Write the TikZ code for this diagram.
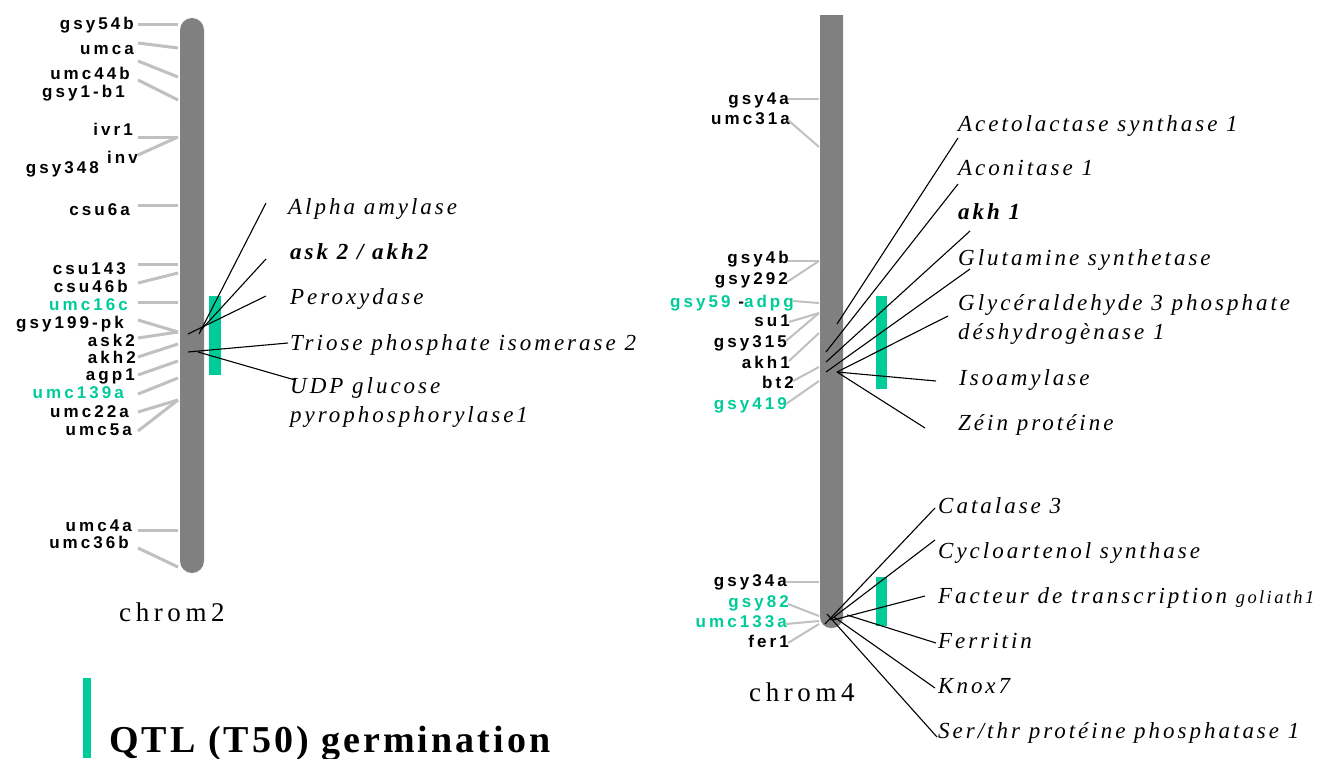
\documentclass[tikz,border=0pt]{standalone}
\usepackage{fontspec}
\setmainfont{Liberation Serif}
\newfontfamily\mkfont[LetterSpace=18]{Liberation Sans}
\newfontfamily\genefont[LetterSpace=13]{Liberation Serif}
\newfontfamily\chromfont[LetterSpace=17]{Liberation Serif}
\newfontfamily\qtlfont[LetterSpace=8]{Liberation Serif}
\definecolor{qtlgreen}{RGB}{0,204,153}
\definecolor{chromgray}{RGB}{128,128,128}
\definecolor{mkgray}{RGB}{192,192,192}
\tikzset{
  mk/.style={font=\mkfont\bfseries\fontsize{17}{19}\selectfont, anchor=base east, inner sep=0pt},
  mkg/.style={mk, text=qtlgreen},
  gene/.style={font=\genefont\itshape\fontsize{23}{30}\selectfont, anchor=base west, inner sep=0pt},
  geneb/.style={gene, font=\genefont\bfseries\itshape\fontsize{23}{30}\selectfont},
  chromlbl/.style={font=\chromfont\fontsize{27}{30}\selectfont, anchor=base west, inner sep=0pt},
  mline/.style={draw=mkgray, line width=3pt},
  mlinet/.style={draw=mkgray, line width=2pt},
  gline/.style={draw=black, line width=1.1pt},
  qtlbar/.style={fill=qtlgreen, draw=none},
  chromo/.style={fill=chromgray, draw=none}
}
\begin{document}
\begin{tikzpicture}[x=1pt,y=-1pt]
\useasboundingbox (0,0) rectangle (1320,758);
\fill[white] (0,0) rectangle (1320,758);

% ---------------- chromosome 2 ----------------
\fill[chromo, rounded corners=12pt] (180,18) rectangle (204,573);
\node[qtlbar, inner sep=0pt, minimum width=12pt, minimum height=79pt, anchor=north west] (q2) at (209,296) {};

% markers chrom2
\node[mk] (m1) at (134,29) {gsy54b};
\node[mk] (m2) at (134,54) {umca};
\node[mk] (m3) at (130,79) {umc44b};
\node[mk] (m4) at (125,97) {gsy1-b1};
\node[mk] (m5) at (133,135) {ivr1};
\node[mk] (m6) at (138,163) {inv};
\node[mk] (m7) at (99,173) {gsy348};
\node[mk] (m8) at (130,215) {csu6a};
\node[mk] (m9) at (126,274) {csu143};
\node[mk] (m10) at (128,292) {csu46b};
\node[mkg] (m11) at (128,310) {umc16c};
\node[mk] (m12) at (124,328) {gsy199-pk};
\node[mk] (m13) at (135,346) {ask2};
\node[mk] (m14) at (136,363) {akh2};
\node[mk] (m15) at (135,380) {agp1};
\node[mkg] (m16) at (124,398) {umc139a};
\node[mk] (m17) at (129,417) {umc22a};
\node[mk] (m18) at (132,435) {umc5a};
\node[mk] (m19) at (132,531) {umc4a};
\node[mk] (m20) at (129,548) {umc36b};

\coordinate (a1) at (138,24);  \coordinate (b1) at (178,24);
\coordinate (a2) at (138,43);  \coordinate (b2) at (178,48);
\coordinate (a3) at (138,61);  \coordinate (b3) at (178,77);
\coordinate (a4) at (138,80);  \coordinate (b4) at (178,100);
\coordinate (a5) at (138,137); \coordinate (b5) at (178,137);
\coordinate (a6) at (138,155);
\coordinate (a8) at (138,205); \coordinate (b8) at (178,205);
\coordinate (a9) at (138,264); \coordinate (b9) at (178,264);
\coordinate (a10) at (138,283); \coordinate (b10) at (178,273);
\coordinate (a11) at (138,302); \coordinate (b11) at (178,302);
\coordinate (a12) at (138,320); \coordinate (b12) at (178,332);
\coordinate (a13) at (138,338);
\coordinate (a14) at (138,357); \coordinate (b14) at (178,344);
\coordinate (a15) at (138,375); \coordinate (b15) at (178,361);
\coordinate (a16) at (138,394); \coordinate (b16) at (178,378);
\coordinate (a17) at (138,412); \coordinate (b17) at (178,400);
\coordinate (a18) at (138,431);
\coordinate (a19) at (138,530); \coordinate (b19) at (178,530);
\coordinate (a20) at (138,548); \coordinate (b20) at (178,567);

\draw[mline] (a1) -- (b1);
\draw[mline] (a2) -- (b2);
\draw[mline] (a3) -- (b3);
\draw[mline] (a4) -- (b4);
\draw[mline] (a5) -- (b5);
\draw[mline] (a6) -- (b5);
\draw[mline] (a8) -- (b8);
\draw[mline] (a9) -- (b9);
\draw[mline] (a10) -- (b10);
\draw[mline] (a11) -- (b11);
\draw[mline] (a12) -- (b12);
\draw[mline] (a13) -- (b12);
\draw[mline] (a14) -- (b14);
\draw[mline] (a15) -- (b15);
\draw[mline] (a16) -- (b16);
\draw[mline] (a17) -- (b17);
\draw[mline] (a18) -- (b17);
\draw[mline] (a19) -- (b19);
\draw[mline] (a20) -- (b20);

% genes chrom2
\node[gene] (g1) at (288,214) {Alpha amylase};
\node[geneb] (g2) at (290,259) {ask 2 / akh2};
\node[gene] (g3) at (290,304) {Peroxydase};
\node[gene] (g4) at (290,350) {Triose phosphate isomerase 2};
\node[gene] (g5) at (290,393) {UDP glucose};
\node[gene] (g5b) at (290,422) {pyrophosphorylase1};

\coordinate (c1) at (199,334); \coordinate (e1) at (266,203);
\coordinate (c2) at (200,331); \coordinate (e2) at (266,259);
\coordinate (c3) at (188,334); \coordinate (e3) at (266,296);
\coordinate (c4) at (188,352); \coordinate (e4) at (288,343);
\coordinate (c5) at (198,352); \coordinate (e5) at (295,380);
\draw[gline] (c1) -- (e1);
\draw[gline] (c2) -- (e2);
\draw[gline] (c3) -- (e3);
\draw[gline] (c4) -- (e4);
\draw[gline] (c5) -- (e5);

\node[chromlbl] (chr2) at (119,621) {chrom2};

% ---------------- chromosome 4 ----------------
\fill[chromo] (820,15) -- (843,15) {[rounded corners=11pt] -- (843,628) -- (820,628)} -- cycle;
\node[qtlbar, inner sep=0pt, minimum width=11pt, minimum height=93pt, anchor=north west] (q4a) at (876,296) {};
\node[qtlbar, inner sep=0pt, minimum width=11pt, minimum height=49pt, anchor=north west] (q4b) at (876,577) {};

% markers chrom4
\node[mk] (n1) at (789,104) {gsy4a};
\node[mk] (n2) at (790,124) {umc31a};
\node[mk] (n3) at (789,263) {gsy4b};
\node[mk] (n4) at (788,284) {gsy292};
\node[mk] (n5) at (794,307) {\textcolor{qtlgreen}{gsy59} -\textcolor{qtlgreen}{adpg}};
\node[mk] (n6) at (790,326) {su1};
\node[mk] (n7) at (787,347) {gsy315};
\node[mk] (n8) at (790,368) {akh1};
\node[mk] (n9) at (794,388) {bt2};
\node[mkg] (n10) at (787,409) {gsy419};
\node[mk] (n11) at (787,586) {gsy34a};
\node[mkg] (n12) at (789,607) {gsy82};
\node[mkg] (n13) at (787,627) {umc133a};
\node[mk] (n14) at (789,647) {fer1};

\coordinate (p1) at (788,99);  \coordinate (r1) at (819,99);
\coordinate (p2) at (788,120); \coordinate (r2) at (819,147);
\coordinate (p3) at (788,261); \coordinate (r3) at (819,261);
\coordinate (p4) at (787,282);
\coordinate (p5) at (793,301); \coordinate (r5) at (819,303);
\coordinate (p6) at (789,322); \coordinate (r6) at (819,313);
\coordinate (p7) at (786,341);
\coordinate (p8) at (789,361); \coordinate (r8) at (819,333);
\coordinate (p9) at (793,381); \coordinate (r9) at (819,367);
\coordinate (p10) at (786,404); \coordinate (r10) at (819,381);
\coordinate (p11) at (786,582); \coordinate (r11) at (819,582);
\coordinate (p12) at (788,604); \coordinate (r12) at (819,616);
\coordinate (p13) at (786,624); \coordinate (r13) at (819,621);
\coordinate (p14) at (788,643); \coordinate (r14) at (819,624);

\draw[mlinet] (p1) -- (r1);
\draw[mlinet] (p2) -- (r2);
\draw[mlinet] (p3) -- (r3);
\draw[mlinet] (p4) -- (r3);
\draw[mlinet] (p5) -- (r5);
\draw[mlinet] (p6) -- (r6);
\draw[mlinet] (p7) -- (r6);
\draw[mlinet] (p8) -- (r8);
\draw[mlinet] (p9) -- (r9);
\draw[mlinet] (p10) -- (r10);
\draw[mlinet] (p11) -- (r11);
\draw[mlinet] (p12) -- (r12);
\draw[mlinet] (p13) -- (r13);
\draw[mlinet] (p14) -- (r14);

% genes chrom4
\node[gene] (h1) at (958,131) {Acetolactase synthase 1};
\node[gene] (h2) at (958,175) {Aconitase 1};
\node[geneb] (h3) at (958,219) {akh 1};
\node[gene] (h4) at (958,265) {Glutamine synthetase};
\node[gene] (h5) at (958,310) {Glycéraldehyde 3 phosphate};
\node[gene] (h5b) at (958,339) {déshydrogènase 1};
\node[gene] (h6) at (959,385) {Isoamylase};
\node[gene] (h7) at (958,430) {Zéin protéine};
\node[gene] (k1) at (938,513) {Catalase 3};
\node[gene] (k2) at (938,558) {Cycloartenol synthase};
\node[gene] (k3) at (938,603) {Facteur de transcription {\fontsize{18.5}{20}\selectfont goliath1}};
\node[gene] (k4) at (938,648) {Ferritin};
\node[gene] (k5) at (938,693) {Knox7};
\node[gene] (k6) at (938,738) {Ser/thr protéine phosphatase 1};

\coordinate (s1) at (837,324); \coordinate (t1) at (958,138);
\coordinate (s2) at (826,352); \coordinate (t2) at (958,184);
\coordinate (s3) at (826,362); \coordinate (t3) at (970,231);
\coordinate (s4) at (826,372); \coordinate (t4) at (970,269);
\coordinate (s5) at (837,372); \coordinate (t5) at (948,316);
\coordinate (t6) at (936,381);
\coordinate (t7) at (925,428);
\draw[gline] (s1) -- (t1);
\draw[gline] (s2) -- (t2);
\draw[gline] (s3) -- (t3);
\draw[gline] (s4) -- (t4);
\draw[gline] (s5) -- (t5);
\draw[gline] (s5) -- (t6);
\draw[gline] (s5) -- (t7);

\coordinate (u1) at (825,624); \coordinate (v1) at (935,508);
\coordinate (u2) at (830,620); \coordinate (v2) at (935,540);
\coordinate (u3) at (833,620); \coordinate (v3) at (925,596);
\coordinate (u4) at (847,615); \coordinate (v4) at (936,643);
\coordinate (u5) at (834,617); \coordinate (v5) at (935,688);
\coordinate (u6) at (827,614); \coordinate (v6) at (937,737);
\draw[gline] (u1) -- (v1);
\draw[gline] (u2) -- (v2);
\draw[gline] (u3) -- (v3);
\draw[gline] (u4) -- (v4);
\draw[gline] (u5) -- (v5);
\draw[gline] (u6) -- (v6);

\node[chromlbl] (chr4) at (749,701) {chrom4};

% ---------------- legend ----------------
\node[qtlbar, inner sep=0pt, minimum width=8pt, minimum height=80pt, anchor=north west] (leg) at (83,678) {};
\node[font=\qtlfont\bfseries\fontsize{38}{40}\selectfont, anchor=base west, inner sep=0pt] (legtxt) at (109,752) {QTL (T50) germination};
\end{tikzpicture}
\end{document}
